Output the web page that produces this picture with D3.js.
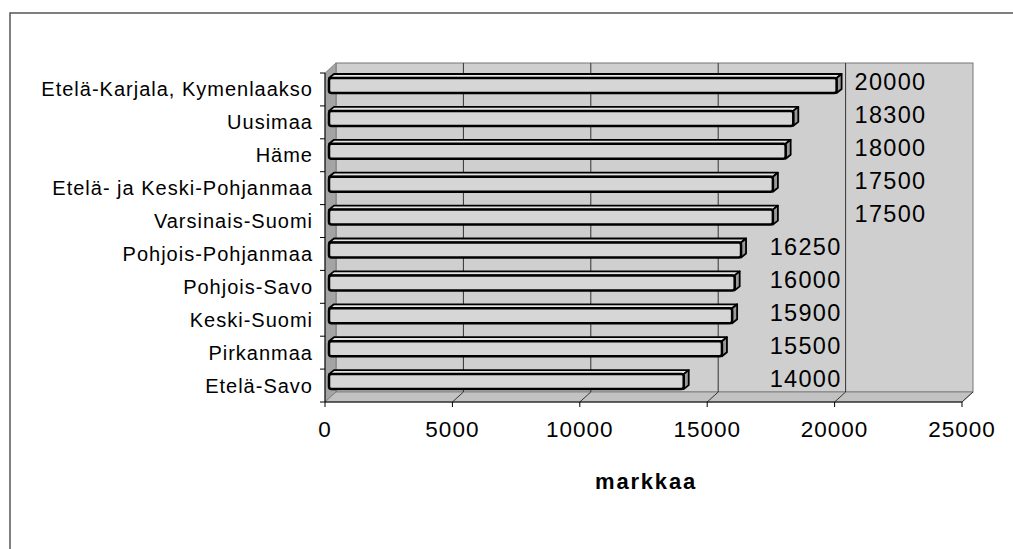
<!DOCTYPE html>
<html>
<head>
<meta charset="utf-8">
<script src="https://cdn.jsdelivr.net/npm/d3@7"></script>
<style>
  html, body { margin: 0; padding: 0; background: #fff; }
  svg { display: block; font-family: "Liberation Sans", Arial, sans-serif; }
</style>
</head>
<body>
<svg id="chart" width="1013" height="549"></svg>
<script>
// ---- data ----
const categories = [
  "Etelä-Karjala, Kymenlaakso",
  "Uusimaa",
  "Häme",
  "Etelä- ja Keski-Pohjanmaa",
  "Varsinais-Suomi",
  "Pohjois-Pohjanmaa",
  "Pohjois-Savo",
  "Keski-Suomi",
  "Pirkanmaa",
  "Etelä-Savo"
];
const values = [20000, 18300, 18000, 17500, 17500, 16250, 16000, 15900, 15500, 14000];
const tickValues = [0, 5000, 10000, 15000, 20000, 25000];
const axisTitle = "markkaa";

(function draw() {
  const svg = d3.select("#chart");
  const pL = 325, pR = 962, pT = 73, pB = 402;
  const dx = 11, dy = -10; // 3D depth offset

  const x = d3.scaleLinear().domain([0, 25000]).range([pL, pR]);
  const y = d3.scaleBand().domain(categories).range([pT, pB]).padding(0);

  // outer frame (top and left edges)
  svg.append("path")
    .attr("d", "M10,549 L10,13 L1013,13")
    .attr("fill", "none").attr("stroke", "#555").attr("stroke-width", 1.5);

  // back wall
  svg.append("rect")
    .attr("x", pL + dx).attr("y", pT + dy)
    .attr("width", (pR - pL)).attr("height", pB - pT)
    .attr("fill", "#cfcfcf").attr("stroke", "#777").attr("stroke-width", 1);

  // left side wall
  svg.append("polygon")
    .attr("points", [[pL, pT], [pL + dx, pT + dy], [pL + dx, pB + dy], [pL, pB]].join(" "))
    .attr("fill", "#a4a4a4").attr("stroke", "#777").attr("stroke-width", 0.8);

  // floor
  svg.append("polygon")
    .attr("points", [[pL, pB], [pR, pB], [pR + dx, pB + dy], [pL + dx, pB + dy]].join(" "))
    .attr("fill", "#c2c2c2").attr("stroke", "#777").attr("stroke-width", 0.8);

  // gridlines on back wall + floor
  tickValues.slice(1, -1).forEach(v => {
    svg.append("line")
      .attr("x1", x(v) + dx).attr("x2", x(v) + dx)
      .attr("y1", pT + dy).attr("y2", pB + dy)
      .attr("stroke", "#333").attr("stroke-width", 1);
  });
  tickValues.slice(1).forEach(v => {
    svg.append("line")
      .attr("x1", x(v)).attr("y1", pB)
      .attr("x2", x(v) + dx).attr("y2", pB + dy)
      .attr("stroke", "#333").attr("stroke-width", 1);
  });

  // bars
  const barG = svg.append("g");
  const bdx = 5, bdy = -4;
  categories.forEach((c, i) => {
    const v = values[i];
    const y0 = y(c) + 5, h = 15;
    const x0 = x(0) + 4, x1 = x(v) + 2;
    barG.append("polygon")
      .attr("points", [[x0, y0], [x0 + bdx, y0 + bdy], [x1 + bdx, y0 + bdy], [x1, y0]].join(" "))
      .attr("fill", "#e4e4e4").attr("stroke", "#000").attr("stroke-width", 1.8).attr("stroke-linejoin", "round");
    barG.append("polygon")
      .attr("points", [[x1, y0], [x1 + bdx, y0 + bdy], [x1 + bdx, y0 + h + bdy], [x1, y0 + h]].join(" "))
      .attr("fill", "#9a9a9a").attr("stroke", "#000").attr("stroke-width", 1.8).attr("stroke-linejoin", "round");
    barG.append("rect")
      .attr("x", x0).attr("y", y0).attr("width", x1 - x0).attr("height", h)
      .attr("rx", 2.5)
      .attr("fill", "#d6d6d6").attr("stroke", "#000").attr("stroke-width", 2.5);
  });

  // category axis
  const yAxis = svg.append("g");
  yAxis.append("line")
    .attr("x1", pL).attr("x2", pL).attr("y1", pT).attr("y2", pB)
    .attr("stroke", "#000").attr("stroke-width", 1);
  categories.concat([null]).forEach(c => {
    const yy = c === null ? pB : y(c);
    yAxis.append("line")
      .attr("x1", pL - 5).attr("x2", pL).attr("y1", yy).attr("y2", yy)
      .attr("stroke", "#000").attr("stroke-width", 1);
  });
  categories.forEach(c => {
    yAxis.append("text")
      .attr("x", 313).attr("y", y(c) + y.bandwidth() / 2 + 7)
      .attr("text-anchor", "end")
      .attr("font-size", 20).attr("letter-spacing", 1)
      .attr("fill", "#000")
      .text(c);
  });

  // value axis
  const xAxis = svg.append("g");
  xAxis.append("line")
    .attr("x1", pL).attr("x2", pR).attr("y1", pB).attr("y2", pB)
    .attr("stroke", "#000").attr("stroke-width", 1);
  tickValues.forEach(v => {
    xAxis.append("line")
      .attr("x1", x(v)).attr("x2", x(v)).attr("y1", pB).attr("y2", pB + 5)
      .attr("stroke", "#000").attr("stroke-width", 1);
    xAxis.append("text")
      .attr("x", x(v)).attr("y", 437)
      .attr("text-anchor", "middle")
      .attr("font-size", 22.5).attr("letter-spacing", 1)
      .attr("fill", "#000")
      .text(v);
  });

  // axis title
  svg.append("text")
    .attr("x", 646).attr("y", 489)
    .attr("text-anchor", "middle")
    .attr("font-size", 22).attr("font-weight", "bold").attr("letter-spacing", 1.8)
    .attr("fill", "#000")
    .text(axisTitle);

  // data labels
  categories.forEach((c, i) => {
    const v = values[i];
    const big = v > 17000;
    svg.append("text")
      .attr("x", big ? x(20000) + dx + 9 : x(20000) + dx - 4)
      .attr("y", y(c) + y.bandwidth() / 2 + 1)
      .attr("text-anchor", big ? "start" : "end")
      .attr("font-size", 23.5).attr("letter-spacing", 1.3)
      .attr("fill", "#000")
      .text(v);
  });
})();
</script>
</body>
</html>
